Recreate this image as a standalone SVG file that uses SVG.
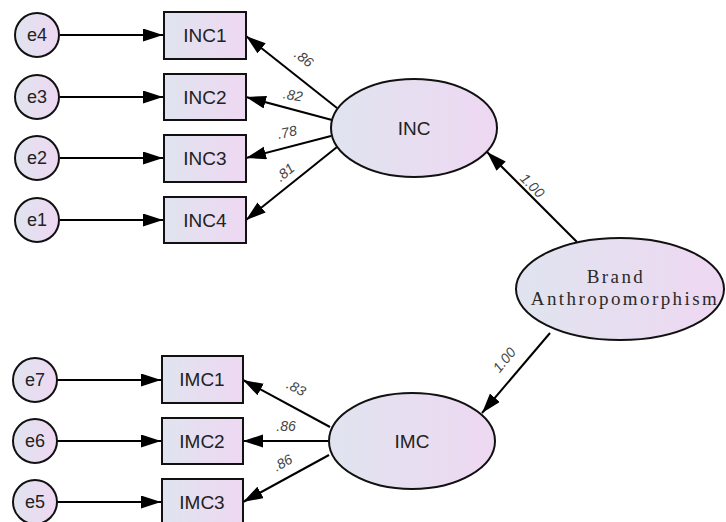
<svg xmlns="http://www.w3.org/2000/svg" width="726" height="522" viewBox="0 0 726 522">
<defs>
<linearGradient id="g" x1="0" y1="0" x2="1" y2="0">
<stop offset="0" stop-color="#e0e4ef"/>
<stop offset="1" stop-color="#eed8f2"/>
</linearGradient>
<marker id="ah" markerUnits="userSpaceOnUse" markerWidth="22" markerHeight="14" refX="20" refY="6.5" orient="auto">
<path d="M0,0 L20,6.5 L0,13 Z" fill="#000"/>
</marker>
<style>
.n{fill:url(#g);stroke:#111;stroke-width:2}
.t{font-family:"Liberation Sans",Arial,sans-serif;font-size:19px;fill:#222;text-anchor:middle}
.e{font-size:18px}
.l{font-family:"Liberation Sans",Arial,sans-serif;font-size:14px;fill:#444;font-style:italic;text-anchor:middle}
.b{font-family:"Liberation Serif","Times New Roman",serif;font-size:19px;fill:#2a2a2a;text-anchor:middle;letter-spacing:2.4px}
.c line{stroke:#000;stroke-width:2;marker-end:url(#ah)}
</style>
</defs>
<rect width="726" height="522" fill="#fff"/>
<g class="c" id="connectors">
<line x1="60" y1="35" x2="163" y2="35"/>
<line x1="60" y1="97" x2="163" y2="97"/>
<line x1="60" y1="158" x2="163" y2="158"/>
<line x1="60" y1="220" x2="163" y2="220"/>
<line x1="57" y1="380" x2="161" y2="380"/>
<line x1="57" y1="441" x2="161" y2="441"/>
<line x1="57" y1="502" x2="161" y2="502"/>
<line x1="337" y1="108" x2="246" y2="36"/>
<line x1="332" y1="120" x2="246" y2="97"/>
<line x1="331" y1="136" x2="246" y2="158"/>
<line x1="337" y1="147" x2="246" y2="220"/>
<line x1="330" y1="427" x2="243" y2="380"/>
<line x1="329" y1="441" x2="243" y2="441"/>
<line x1="329" y1="455" x2="243" y2="502"/>
<line x1="577" y1="242" x2="487" y2="152"/>
<line x1="550" y1="333" x2="482" y2="413"/>
</g>
<g id="labels">
<text class="l" transform="translate(301,62) rotate(38)">.86</text>
<text class="l" transform="translate(292,100) rotate(10)">.82</text>
<text class="l" transform="translate(288,137) rotate(-12)">.78</text>
<text class="l" transform="translate(288,176) rotate(-39)">.81</text>
<text class="l" transform="translate(529,189) rotate(45)">1.00</text>
<text class="l" transform="translate(508,363) rotate(-51)">1.00</text>
<text class="l" transform="translate(294,392) rotate(28)">.83</text>
<text class="l" transform="translate(286,431)">.86</text>
<text class="l" transform="translate(285,467) rotate(-29)">.86</text>
</g>
<g id="e4"><circle class="n" cx="37" cy="35" r="22"/><text class="t e" x="37" y="41">e4</text></g>
<g id="e3"><circle class="n" cx="37" cy="97" r="22"/><text class="t e" x="37" y="103">e3</text></g>
<g id="e2"><circle class="n" cx="37" cy="158" r="22"/><text class="t e" x="37" y="164">e2</text></g>
<g id="e1"><circle class="n" cx="37" cy="220" r="22"/><text class="t e" x="37" y="226">e1</text></g>
<g id="e7"><circle class="n" cx="35" cy="380" r="22"/><text class="t e" x="35" y="386">e7</text></g>
<g id="e6"><circle class="n" cx="35" cy="441" r="22"/><text class="t e" x="35" y="447">e6</text></g>
<g id="e5"><circle class="n" cx="35" cy="502" r="22"/><text class="t e" x="35" y="508">e5</text></g>
<g id="INC1"><rect class="n" x="164" y="12" width="82" height="47"/><text class="t" x="205" y="42">INC1</text></g>
<g id="INC2"><rect class="n" x="164" y="74" width="82" height="46"/><text class="t" x="205" y="104">INC2</text></g>
<g id="INC3"><rect class="n" x="164" y="135" width="82" height="47"/><text class="t" x="205" y="165">INC3</text></g>
<g id="INC4"><rect class="n" x="164" y="197" width="82" height="46"/><text class="t" x="205" y="227">INC4</text></g>
<g id="IMC1"><rect class="n" x="162" y="356" width="81" height="47"/><text class="t" x="202" y="386">IMC1</text></g>
<g id="IMC2"><rect class="n" x="162" y="418" width="81" height="46"/><text class="t" x="202" y="448">IMC2</text></g>
<g id="IMC3"><rect class="n" x="162" y="479" width="81" height="47"/><text class="t" x="202" y="509">IMC3</text></g>
<g id="INC"><ellipse class="n" cx="414" cy="128" rx="83" ry="49"/><text class="t" x="414" y="135">INC</text></g>
<g id="IMC"><ellipse class="n" cx="412" cy="441" rx="83" ry="48"/><text class="t" x="412" y="448">IMC</text></g>
<g id="BrandAnthropomorphism"><ellipse class="n" cx="620" cy="289" rx="104" ry="51"/><text class="b" x="616" y="283">Brand</text><text class="b" x="625" y="305">Anthropomorphism</text></g>
</svg>
